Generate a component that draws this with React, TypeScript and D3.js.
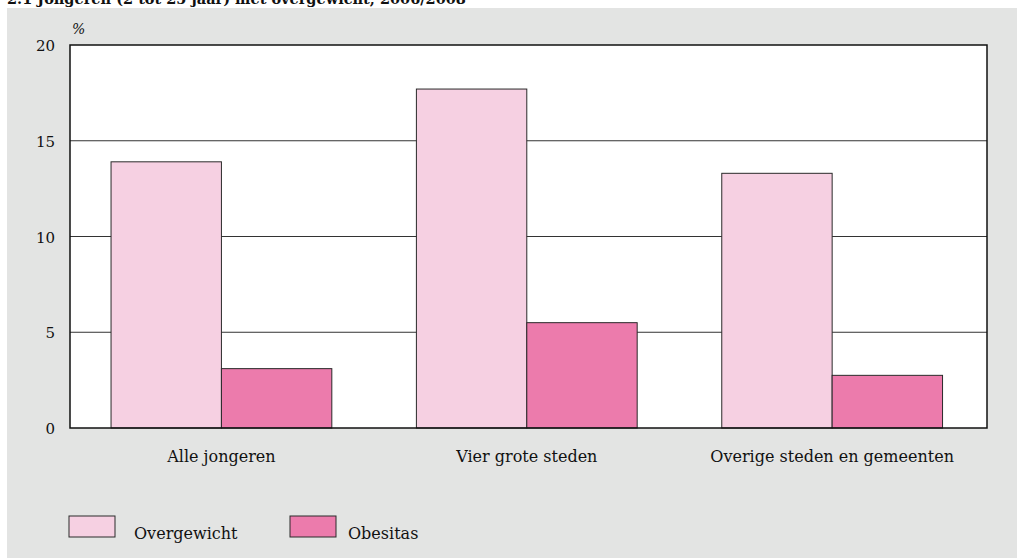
import React from "react";
import * as d3 from "d3";

const categories = ["Alle jongeren", "Vier grote steden", "Overige steden en gemeenten"];
const seriesNames = ["Overgewicht", "Obesitas"];
const overgewicht = [13.9, 17.7, 13.3];
const obesitas = [3.1, 5.5, 2.75];
const yTicks = [0, 5, 10, 15, 20];
const colors = ["#F6D0E2", "#EC7BAC"];
const title = "2.1  Jongeren (2 tot 25 jaar) met overgewicht, 2006/2008";

const W = 1017, H = 558;
const left = 70, right = 987, top = 45, bottom = 428;
const FONT = "'DejaVu Serif', 'Liberation Serif', serif";

export default function App() {
  const x = d3.scaleBand<string>().domain(categories).range([left, right]).paddingInner(0.277).paddingOuter(0.14).align(0.48);
  const xs = d3.scaleBand<string>().domain(seriesNames).range([0, x.bandwidth()]);
  const y = d3.scaleLinear().domain([0, 20]).range([bottom, top]);
  const series = [overgewicht, obesitas];
  return (
    <svg width={W} height={H} style={{ position: "absolute", left: 0, top: 0 }} fontFamily={FONT}>
      <rect x={0} y={0} width={W} height={H} fill="#fff" />
      <rect x={7} y={8} width={W - 7} height={H - 8} fill="#E3E4E3" />
      <text x={7} y={4} fontSize={14.5} fontWeight="bold" fill="#111">{title}</text>
      <rect x={left} y={top} width={right - left} height={bottom - top} fill="#fff" />
      {yTicks.filter(t => t > 0 && t < 20).map(t => (
        <line key={t} x1={left} x2={right} y1={y(t)} y2={y(t)} stroke="#333" strokeWidth={1} />
      ))}
      {categories.map((c, i) => (
        <g key={c}>
          {series.map((s, j) => (
            <rect key={j} x={(x(c) as number) + (xs(seriesNames[j]) as number)} y={y(s[i])}
              width={xs.bandwidth()} height={bottom - y(s[i])} fill={colors[j]} stroke="#2a2a2a" strokeWidth={1} />
          ))}
          <text x={(x(c) as number) + x.bandwidth() / 2} y={462} textAnchor="middle" fontSize={16} fill="#111">{c}</text>
        </g>
      ))}
      <rect x={left} y={top} width={right - left} height={bottom - top} fill="none" stroke="#111" strokeWidth={1.5} />
      {yTicks.map(t => (
        <text key={t} x={55} y={y(t) + 6} textAnchor="end" fontSize={15} fill="#111">{t}</text>
      ))}
      <text x={72} y={34} fontSize={14} fontStyle="italic" fill="#111">%</text>
      {seriesNames.map((n, j) => (
        <g key={n}>
          <rect x={69 + j * 221} y={516} width={46} height={21} fill={colors[j]} stroke="#2a2a2a" strokeWidth={1} />
          <text x={134 + j * 214} y={539} fontSize={16} fill="#111">{n}</text>
        </g>
      ))}
    </svg>
  );
}
